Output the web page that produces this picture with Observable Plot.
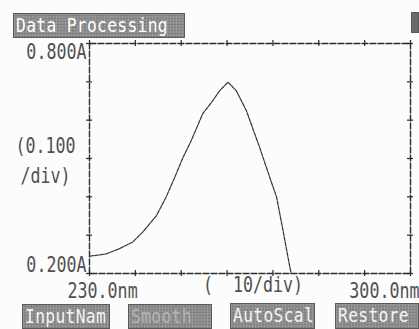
<!DOCTYPE html>
<html>
<head>
<meta charset="utf-8">
<script src="https://cdn.jsdelivr.net/npm/d3@7"></script>
<script src="https://cdn.jsdelivr.net/npm/@observablehq/plot@0.6"></script>
<style>
  html, body { margin: 0; padding: 0; background: #fcfcfc; }
  #wrap { position: relative; width: 419px; height: 329px; overflow: hidden; font-family: "DejaVu Sans Mono", monospace; }
  #wrap svg { position: absolute; left: 0; top: 0; }
  .btn { position: absolute; background: #8c8c8c; color: #f4f4f4; border: 1px solid #5a5a5a;
         font-family: "DejaVu Sans Mono", monospace; font-size: 16px; line-height: 18px; white-space: nowrap;
         overflow: visible; box-sizing: border-box; padding-left: 2px; display: flex; align-items: center;
         background-image: repeating-linear-gradient(90deg, rgba(255,255,255,0.12) 0 1px, rgba(0,0,0,0) 1px 3px),
                           repeating-linear-gradient(0deg, rgba(0,0,0,0.10) 0 1px, rgba(0,0,0,0) 1px 3px); }
  .btn span { display: inline-block; transform: scale(1.02, 1.2); transform-origin: left center; letter-spacing: 0.3px; }
</style>
</head>
<body>
<div id="wrap"></div>
<script>
// Spectrum (wavelength in nm, absorbance in A)
const wavelength = [230, 233.6, 236.6, 239.4, 241.6, 244.6, 246.7, 248.6, 250.4, 252.2, 254.7, 256.9, 258.4, 260.2, 262.0, 264.2, 267.1, 269.3, 270.8, 272.2, 273.7, 274.0];
const absorbance = [0.245, 0.251, 0.265, 0.282, 0.308, 0.351, 0.399, 0.451, 0.503, 0.547, 0.617, 0.651, 0.677, 0.699, 0.677, 0.625, 0.529, 0.451, 0.399, 0.312, 0.216, 0.200];

const xTicks = [230, 240, 250, 260, 270, 280, 290, 300];
const yTicks = [0.2, 0.3, 0.4, 0.5, 0.6, 0.7, 0.8];
const xDomain = [230, 300];
const yDomain = [0.2, 0.8];
const yTopLabel = "0.800A";
const yBottomLabel = "0.200A";
const yScaleLabel = "(0.100\n/div)";
const xLeftLabel = "230.0nm";
const xRightLabel = "300.0nm";
const xScaleLabel = "(  10/div)";
const title = "Data Processing";
const buttons = ["InputNam", "Smooth", "AutoScal", "Restore"];

const data = wavelength.map((w, i) => ({w, a: absorbance[i]}));
const ink = "#2a2a2a";
const txt = "#505050";
const font = "DejaVu Sans Mono";

const chart = Plot.plot({
  width: 419,
  height: 329,
  marginLeft: 89,
  marginRight: 9,
  marginTop: 43,
  marginBottom: 56,
  x: {domain: xDomain, axis: null},
  y: {domain: yDomain, axis: null},
  style: {background: "transparent", fontFamily: font},
  marks: [
    Plot.frame({stroke: ink, strokeWidth: 1.4, strokeDasharray: "7,1"}),
    // tick marks crossing the frame
    Plot.ruleX(xTicks, {x: d => d, y1: yDomain[0], y2: yDomain[0], insetTop: -3, insetBottom: -3, stroke: ink, strokeWidth: 1.2}),
    Plot.ruleX(xTicks, {x: d => d, y1: yDomain[1], y2: yDomain[1], insetTop: -3, insetBottom: -3, stroke: ink, strokeWidth: 1.2}),
    Plot.ruleY(yTicks, {y: d => d, x1: xDomain[0], x2: xDomain[0], insetLeft: -3, insetRight: -3, stroke: ink, strokeWidth: 1.2}),
    Plot.ruleY(yTicks, {y: d => d, x1: xDomain[1], x2: xDomain[1], insetLeft: -3, insetRight: -3, stroke: ink, strokeWidth: 1.2}),
    // spectrum
    Plot.line(data, {x: "w", y: "a", stroke: "#333", strokeWidth: 1.2, strokeDasharray: "4,1.2"}),
    // y labels
    Plot.text([yTopLabel], {x: xDomain[0], y: yDomain[1], text: d => d, textAnchor: "end", dx: -3, dy: 9, fontSize: 17, fill: txt}),
    Plot.text([yBottomLabel], {x: xDomain[0], y: yDomain[0], text: d => d, textAnchor: "end", dx: -3, dy: -8, fontSize: 17, fill: txt}),
    Plot.text([yScaleLabel], {frameAnchor: "left", text: d => d, textAnchor: "middle", dx: -44, dy: 0, fontSize: 17, lineHeight: 1.4, fill: txt}),
    // x labels
    Plot.text([xLeftLabel], {x: xDomain[0], y: yDomain[0], text: d => d, textAnchor: "start", dx: -22, dy: 18, fontSize: 17, fill: txt}),
    Plot.text([xRightLabel], {x: xDomain[1], y: yDomain[0], text: d => d, textAnchor: "end", dx: 9, dy: 18, fontSize: 17, fill: txt}),
    Plot.text([xScaleLabel], {frameAnchor: "bottom", text: d => d, textAnchor: "middle", dx: 3, dy: 18, fontSize: 17, fill: txt})
  ]
});

// stretch the labels vertically, like the tall narrow printer glyphs
chart.querySelectorAll("text").forEach(t => {
  const tr = t.getAttribute("transform") || "";
  t.setAttribute("transform", tr + " scale(0.98,1.25)");
});

const wrap = document.getElementById("wrap");
wrap.appendChild(chart);

function box(text, left, top, width, height) {
  const d = document.createElement("div");
  d.className = "btn";
  const s = document.createElement("span");
  s.textContent = text;
  d.appendChild(s);
  d.style.left = left + "px";
  d.style.top = top + "px";
  d.style.width = width + "px";
  d.style.height = height + "px";
  wrap.appendChild(d);
  return d;
}
box(title, 13, 13, 172, 25).style.color = "#ffffff";
const b0 = box(buttons[0], 22, 304, 88, 25);
const b1 = box(buttons[1], 128, 304, 84, 25); b1.style.color = "#b4b4b4";
const b2 = box(buttons[2], 230, 303, 85, 26);
const b3 = box(buttons[3], 335, 303, 84, 26);
const corner = box("", 411, 12, 8, 21); corner.style.background = "#6a6a6a";
</script>
</body>
</html>
